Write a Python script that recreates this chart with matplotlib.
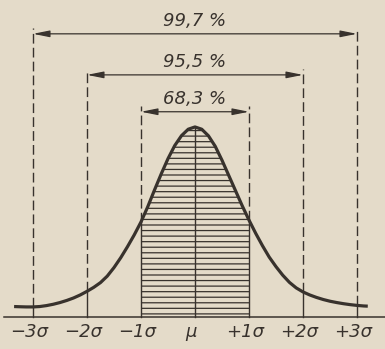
import matplotlib.pyplot as plt
import numpy as np

# bell curve read as (position in sigma, relative height with peak = 100)
curve_z = [-3.35, -3.25, -3.125, -3.0, -2.875, -2.75, -2.625, -2.5, -2.375, -2.25, -2.125,
           -2.0, -1.875, -1.75, -1.625, -1.5, -1.375, -1.25, -1.125, -1.0, -0.875,
           -0.75, -0.625, -0.5, -0.375, -0.25, -0.125, 0.0,
           0.125, 0.25, 0.375, 0.5, 0.625, 0.75, 0.875, 1.0, 1.125, 1.25, 1.375,
           1.5, 1.625, 1.75, 1.875, 2.0, 2.125, 2.25, 2.375, 2.5, 2.625, 2.75,
           2.875, 3.0, 3.125, 3.2]
curve_h = [5.5, 5.4, 5.3, 5.3, 5.5, 6.0, 6.7, 7.6, 8.7, 10.0, 11.6,
           13.5, 15.6, 18.1, 21.5, 26.0, 31.2, 37.0, 43.2, 50.0, 58.0,
           66.8, 75.3, 83.3, 90.2, 95.4, 98.8, 100.0,
           98.8, 95.3, 89.8, 82.5, 74.5, 66.5, 58.5, 51.0, 44.0, 37.5, 31.5,
           26.5, 22.0, 18.2, 15.3, 13.2, 11.6, 10.3, 9.2, 8.3, 7.6, 7.0,
           6.5, 6.1, 5.8, 5.7]

tick_z = [-3, -2, -1, 0, 1, 2, 3]
tick_labels = ["−3σ", "−2σ", "−1σ", "μ", "+1σ", "+2σ", "+3σ"]

spans = [3, 2, 1]
span_labels = ["99,7 %", "95,5 %", "68,3 %"]
span_y = [149, 127.4, 108]

ink = "#38322d"
paper = "#e4dbc9"

plt.rcParams["hatch.linewidth"] = 0.9
plt.rcParams["hatch.color"] = ink

fig = plt.figure(figsize=(3.85, 3.49), dpi=100, facecolor=paper)
ax = fig.add_axes([0, 0, 1, 1])
ax.set_facecolor(paper)
ax.set_xlim(-3.611, 3.519)
ax.set_ylim(-16.84, 166.8)
ax.axis("off")

z = np.array(curve_z)
h = np.array(curve_h)

# shaded band between -1 sigma and +1 sigma
inner = (z >= -1) & (z <= 1)
ax.fill_between(z[inner], 0, h[inner], facecolor="none", edgecolor=ink,
                hatch="---", linewidth=0)

# baseline
ax.plot([-3.54, 3.52], [0, 0], color=ink, lw=1.1)

# vertical guides: solid under the curve, dashed above it
for s, y in zip(spans, span_y):
    for zz in (-s, s):
        top = np.interp(zz, z, h)
        ax.plot([zz, zz], [0, top], color=ink, lw=1.0)
        ax.plot([zz, zz], [top, y + 3], color=ink, lw=1.0,
                linestyle=(0, (7, 3)))
ax.plot([0, 0], [0, 100], color=ink, lw=1.0)

# the curve itself
ax.plot(z, h, color=ink, lw=2.3, solid_capstyle="butt", solid_joinstyle="round")

# percentage spans
for s, y, lab in zip(spans, span_y, span_labels):
    ax.annotate("", xy=(s, y), xytext=(-s, y),
                arrowprops=dict(arrowstyle="<|-|>,head_length=0.9,head_width=0.18",
                                color=ink, lw=0.9, mutation_scale=11,
                                shrinkA=0, shrinkB=0))
    ax.text(0, y + 6.8, lab, ha="center", va="center", color=ink,
            fontsize=13, style="italic", family="DejaVu Sans")

for zz, lab in zip(tick_z, tick_labels):
    ax.text(zz - 0.08, -8, lab, ha="center", va="center", color=ink,
            fontsize=13, style="italic", family="DejaVu Sans")

fig.savefig("out.png", dpi=100, facecolor=paper)
